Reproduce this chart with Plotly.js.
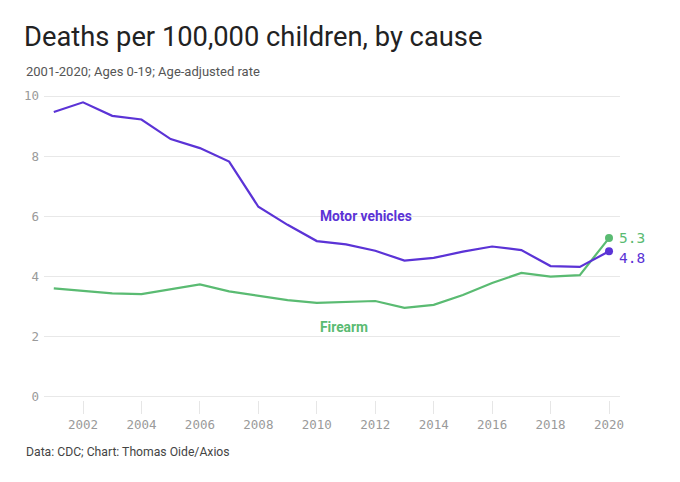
<!DOCTYPE html>
<html>
<head>
<meta charset="utf-8">
<script src="https://cdn.plot.ly/plotly-3.0.1.min.js"></script>
<style>
  html, body { margin: 0; padding: 0; background: #fff; }
  #chart { width: 680px; height: 482px; }
</style>
</head>
<body>
<div id="chart"></div>
<script>
const years = [2001, 2002, 2003, 2004, 2005, 2006, 2007, 2008, 2009, 2010,
               2011, 2012, 2013, 2014, 2015, 2016, 2017, 2018, 2019, 2020];
const motorVehicles = [9.47, 9.79, 9.34, 9.22, 8.57, 8.27, 7.82, 6.32, 5.72, 5.18,
                       5.07, 4.86, 4.53, 4.62, 4.83, 5.0, 4.88, 4.35, 4.32, 4.84];
const firearm = [3.61, 3.52, 3.44, 3.42, 3.57, 3.74, 3.51, 3.37, 3.22, 3.13,
                 3.17, 3.19, 2.96, 3.06, 3.39, 3.79, 4.12, 4.0, 4.05, 5.28];
const seriesNames = ["Motor vehicles", "Firearm"];
const endLabels = ["4.8", "5.3"];
const yTicks = [0, 2, 4, 6, 8, 10];
const xTicks = [2002, 2004, 2006, 2008, 2010, 2012, 2014, 2016, 2018, 2020];

const purple = "#5b33d6";
const green = "#5abb72";
const mono = "DejaVu Sans Mono, monospace";
const sans = "Roboto, Inter, sans-serif";

const last = years.length - 1;

const traces = [
  { x: years, y: firearm, type: "scatter", mode: "lines", name: seriesNames[1],
    line: { color: green, width: 2.2 }, hoverinfo: "skip" },
  { x: years, y: motorVehicles, type: "scatter", mode: "lines", name: seriesNames[0],
    line: { color: purple, width: 2.2 }, hoverinfo: "skip" },
  { x: [years[last]], y: [firearm[last]], type: "scatter", mode: "markers",
    marker: { color: green, size: 8 }, hoverinfo: "skip", cliponaxis: false },
  { x: [years[last]], y: [motorVehicles[last]], type: "scatter", mode: "markers",
    marker: { color: purple, size: 8 }, hoverinfo: "skip", cliponaxis: false }
];

const layout = {
  width: 680, height: 482,
  paper_bgcolor: "#fff", plot_bgcolor: "#fff",
  showlegend: false,
  margin: { l: 44, r: 60, t: 93, b: 82 },
  title: {
    text: "Deaths per 100,000 children, by cause",
    x: 24/680, xref: "container", xanchor: "left",
    y: 1 - 36/482, yref: "container", yanchor: "middle",
    font: { family: sans, size: 27.3, color: "#222" }
  },
  xaxis: {
    range: [2000.665, 2020.376],
    tickvals: xTicks, ticktext: xTicks.map(String),
    showgrid: false, zeroline: false, showline: false,
    ticks: "outside", ticklen: 13, tickcolor: "#e6e6e6", tickwidth: 1,
    tickfont: { family: mono, size: 12.5, color: "#9a9a9a" }
  },
  yaxis: {
    range: [-0.1, 10.1],
    tickvals: yTicks, ticktext: yTicks.map(String),
    showgrid: true, gridcolor: "#e8e8e8", gridwidth: 1,
    zeroline: false, showline: false,
    ticklabelstandoff: 4,
    tickfont: { family: mono, size: 12.5, color: "#9a9a9a" }
  },
  annotations: [
    { xref: "paper", yref: "paper", x: -20/576, y: 1 + 21/307, xanchor: "left", yanchor: "middle",
      text: "2001-2020; Ages 0-19; Age-adjusted rate", showarrow: false,
      font: { family: sans, size: 13, color: "#555" } },
    { xref: "paper", yref: "paper", x: -20/576, y: -52/307, xanchor: "left", yanchor: "middle",
      text: "Data: CDC; Chart: Thomas Oide/Axios", showarrow: false,
      font: { family: sans, size: 12.2, color: "#444" } },
    { x: 2010.05, y: 6.0, xanchor: "left", yanchor: "middle", showarrow: false,
      text: "<b>" + seriesNames[0] + "</b>", font: { family: sans, size: 13.8, color: purple } },
    { x: 2010.05, y: 2.33, xanchor: "left", yanchor: "middle", showarrow: false,
      text: "<b>" + seriesNames[1] + "</b>", font: { family: sans, size: 13.8, color: green } },
    { x: years[last], y: firearm[last], xanchor: "left", yanchor: "middle", xshift: 8, showarrow: false,
      text: endLabels[1], font: { family: mono, size: 14.5, color: green } },
    { x: years[last], y: motorVehicles[last], xanchor: "left", yanchor: "middle", xshift: 8, yshift: -7, showarrow: false,
      text: endLabels[0], font: { family: mono, size: 14.5, color: purple } }
  ]
};

Plotly.newPlot("chart", traces, layout, { staticPlot: true, displayModeBar: false });
</script>
</body>
</html>
